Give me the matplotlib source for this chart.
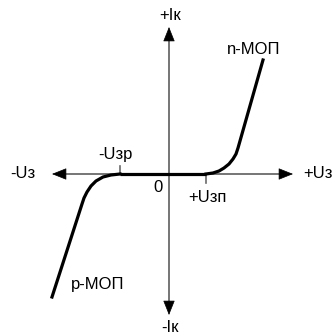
import numpy as np
import matplotlib
matplotlib.use("Agg")
import matplotlib.pyplot as plt

plt.rcParams['font.family'] = ['Liberation Sans', 'DejaVu Sans']

# характеристики (условные единицы)
u_zp = 37      # +Uзп
u_zr = -49     # -Uзр
n_u = [37, 44, 50, 55, 60, 64, 67, 69, 94]
n_i = [0, 1, 3, 6, 10, 15, 20, 26, 114]
p_u = [-49, -58, -66, -73, -78, -82, -85, -87, -117]
p_i = [0, -1, -3, -7, -12, -18, -24, -30, -123]
flat_u = [u_zr, u_zp]
flat_i = [0, 0]

# концы осей
x_left, x_right = -117, 124
y_top, y_bot = 147, -141

fig = plt.figure(figsize=(3.33, 3.35), dpi=100)
ax = fig.add_axes([0, 0, 1, 1])
ax.set_xlim(-169, 164)
ax.set_ylim(-161, 174)
ax.axis('off')

axc = '#6a6a6a'
ax.plot([x_left + 8, x_right - 8], [0, 0], color=axc, lw=1.3, zorder=1)
ax.plot([0, 0], [y_bot + 8, y_top - 8], color=axc, lw=1.3, zorder=1)

def head(tip, back):
    ax.annotate('', xy=tip, xytext=back,
                arrowprops=dict(arrowstyle='-|>,head_length=0.55,head_width=0.22',
                                color='black', lw=0.5, mutation_scale=17,
                                shrinkA=0, shrinkB=0))

head((x_right, 0), (x_right - 12, 0))
head((x_left, 0), (x_left + 12, 0))
head((0, y_top), (0, y_top - 12))
head((0, y_bot), (0, y_bot + 12))

# отметки порогов
ax.plot([u_zr, u_zr], [0, 8], color=axc, lw=1.2)
ax.plot([u_zp, u_zp], [0, -9], color=axc, lw=1.2)

# кривые
ax.plot(flat_u, flat_i, color='black', lw=2.3, solid_capstyle='butt', zorder=3)
ax.plot(n_u, n_i, color='black', lw=2.3, zorder=3)
ax.plot(p_u, p_i, color='black', lw=2.3, zorder=3)

fs = 12
ax.text(1, 159, '+Iк', ha='center', va='center', fontsize=fs)
ax.text(1, -154, '-Iк', ha='center', va='center', fontsize=fs)
ax.text(-146, 1, '-Uз', ha='center', va='center', fontsize=fs)
ax.text(134, 1, '+Uз', ha='left', va='center', fontsize=fs)
ax.text(-54, 19, '-Uзр', ha='center', va='center', fontsize=fs)
ax.text(-11, -13, '0', ha='center', va='center', fontsize=fs)
ax.text(38, -23, '+Uзп', ha='center', va='center', fontsize=fs)
ax.text(85, 124, 'n-МОП', ha='center', va='center', fontsize=fs)
ax.text(-71, -111, 'p-МОП', ha='center', va='center', fontsize=fs)

fig.savefig('out.png', dpi=100)
